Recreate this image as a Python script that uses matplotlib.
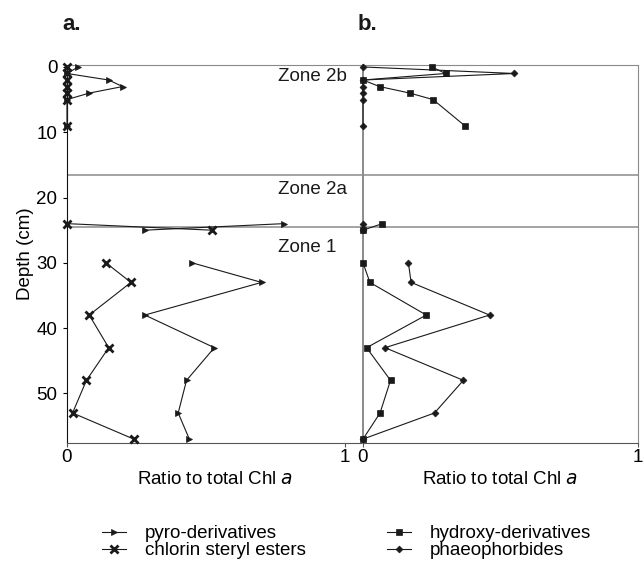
import matplotlib
matplotlib.use("Agg")
import matplotlib.pyplot as plt
import numpy as np

plt.rcParams["font.family"] = ["Liberation Sans", "DejaVu Sans"]

# depth (cm) of each sample; segment id separates the zones (lines are not joined across)
depth = [0, 1, 2, 3, 4, 5, 9, 24, 25, 30, 33, 38, 43, 48, 53, 57]
segment = [0, 0, 0, 0, 0, 0, 0, 1, 1, 2, 2, 2, 2, 2, 2, 2]

# panel a
pyro = [0.04, 0.0, 0.15, 0.20, 0.08, 0.0, 0.0, 0.78, 0.28, 0.45, 0.70, 0.28, 0.53, 0.43, 0.40, 0.44]
esters = [0.0, 0.0, 0.0, 0.0, 0.0, 0.0, 0.0, 0.0, 0.52, 0.14, 0.23, 0.08, 0.15, 0.07, 0.02, 0.24]

# panel b
hydroxy = [0.25, 0.30, 0.0, 0.06, 0.17, 0.255, 0.37, 0.07, 0.0, 0.0, 0.025, 0.23, 0.013, 0.10, 0.062, 0.0]
phaeo = [0.0, 0.55, 0.0, 0.0, 0.0, 0.0, 0.0, 0.0, 0.0, 0.165, 0.175, 0.46, 0.08, 0.365, 0.26, 0.0]

zone_bounds = [16.5, 24.5]
zone_labels = [("Zone 2b", 1.4), ("Zone 2a", 18.8), ("Zone 1", 27.6)]

W, H = 643, 562
fig = plt.figure(figsize=(W / 100, H / 100), dpi=100)

left_a, split, right_b = 67 / W, 363 / W, 638 / W
bottom, top = 1 - 443 / H, 1 - 65 / H
ax_a = fig.add_axes([left_a, bottom, split - left_a, top - bottom])
ax_b = fig.add_axes([split, bottom, right_b - split, top - bottom])

FS = 13.5
gray = "#8a8a8a"


def plot_series(ax, values, marker, ms, mew, label):
    d = np.array(depth, dtype=float)
    v = np.array(values, dtype=float)
    seg = np.array(segment)
    handle = None
    for s in np.unique(seg):
        m = seg == s
        line, = ax.plot(v[m], d[m], color="#1a1a1a", lw=0.8, marker=marker,
                        ms=ms, mew=mew, mfc="#1a1a1a", mec="#1a1a1a",
                        label=label if handle is None else None, zorder=3,
                        clip_on=False)
        if handle is None:
            handle = line
    return handle


h_pyro = plot_series(ax_a, pyro, ">", 4.8, 0.5, "pyro-derivatives")
h_est = plot_series(ax_a, esters, "x", 6, 2.0, "chlorin steryl esters")
h_hyd = plot_series(ax_b, hydroxy, "s", 5, 0.5, "hydroxy-derivatives")
h_pha = plot_series(ax_b, phaeo, "D", 3.5, 0.5, "phaeophorbides")

for ax in (ax_a, ax_b):
    ax.set_ylim(57.6, -0.3)
    for zb in zone_bounds:
        ax.axhline(zb, color=gray, lw=1.1, zorder=1)
    ax.set_xlabel("Ratio to total Chl $\\it{a}$", fontsize=FS, labelpad=4)
    ax.set_xticks([0, 1])
    ax.set_xticklabels(["0", "1"], fontsize=FS)
    ax.tick_params(axis="x", length=3, width=0.8, color="#555555", pad=1)
    ax.spines["top"].set_color(gray)
    ax.spines["bottom"].set_color("#555555")

ax_a.set_xlim(0, 296 / 278)
ax_b.set_xlim(0, 1)

ax_a.spines["right"].set_visible(False)
ax_a.spines["left"].set_color("#111111")
ax_a.set_yticks([0, 10, 20, 30, 40, 50])
ax_a.set_yticklabels(["0", "10", "20", "30", "40", "50"], fontsize=FS)
ax_a.tick_params(axis="y", length=3, width=0.8, pad=4)
ax_a.set_ylabel("Depth (cm)", fontsize=FS, labelpad=2)

ax_b.spines["left"].set_color(gray)
ax_b.spines["left"].set_linewidth(1.4)
ax_b.spines["right"].set_color(gray)
ax_b.set_yticks([])

for text, y in zone_labels:
    ax_a.text(0.76, y, text, fontsize=FS, ha="left", va="center", color="#1a1a1a", zorder=4)

fig.text(62 / W, 1 - 24 / H, "a.", fontsize=16, fontweight="bold", va="center", color="#1a1a1a")
fig.text(358 / W, 1 - 24 / H, "b.", fontsize=16, fontweight="bold", va="center", color="#1a1a1a")

fig.legend(handles=[h_pyro, h_est, h_hyd, h_pha], ncol=2, frameon=False,
           loc="upper left", bbox_to_anchor=(102 / W, 1 - 525 / H),
           fontsize=FS, handlelength=1.3, handletextpad=1.0, columnspacing=4.3,
           labelspacing=0.0, borderpad=0, borderaxespad=0)

fig.savefig("out.png", dpi=100)
